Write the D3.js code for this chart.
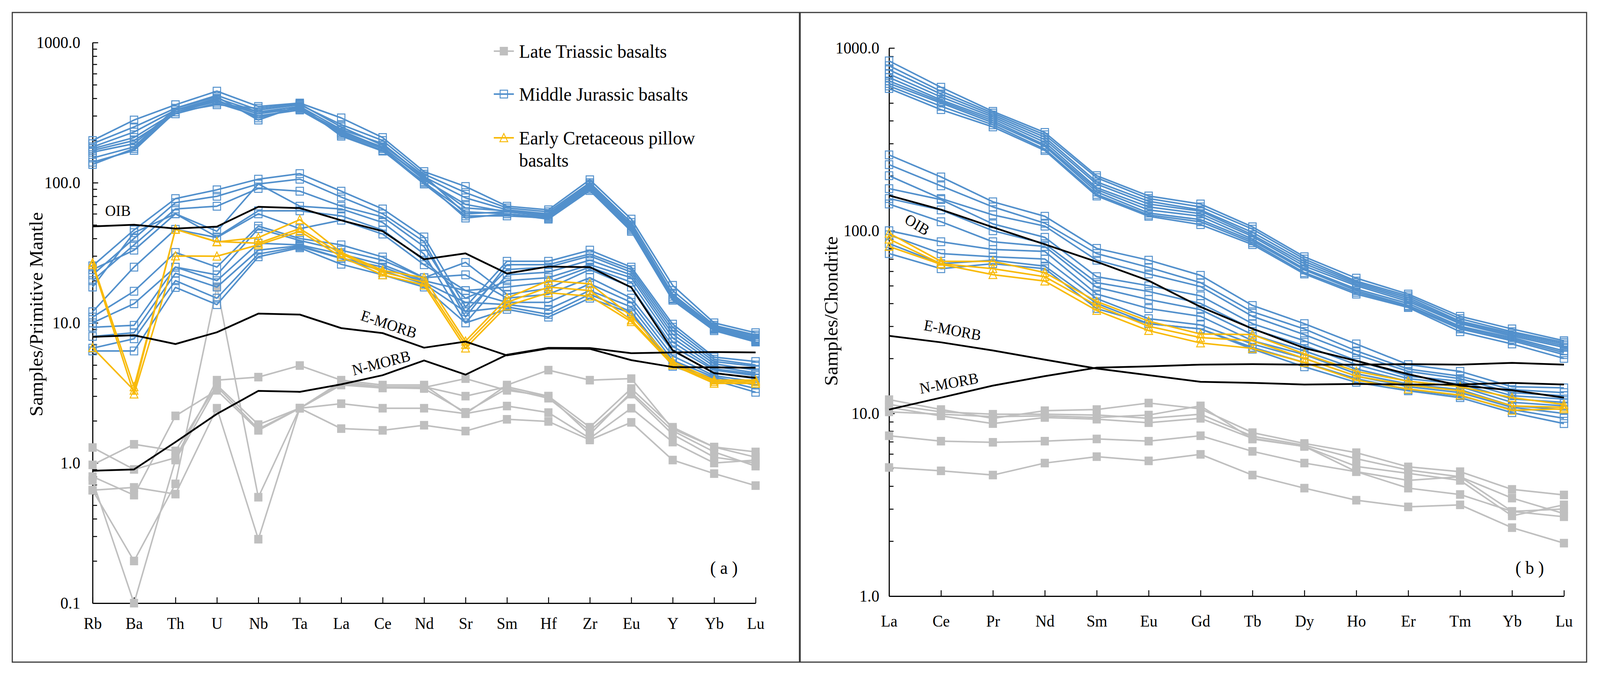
<!DOCTYPE html>
<html>
<head>
<meta charset="utf-8">
<script src="https://cdn.jsdelivr.net/npm/d3@7"></script>
<style>
  html, body { margin: 0; padding: 0; background: #fff; overflow: hidden; }
  #chart { display: block; width: 100vw; height: 100vh; }
  text { font-family: "Liberation Serif", "Times New Roman", serif; fill: #000; }
</style>
</head>
<body>
<svg id="chart" viewBox="0 0 4303 1729" preserveAspectRatio="none"></svg>
<script>
// element order on the two x axes
const spiderElements = ["Rb", "Ba", "Th", "U", "Nb", "Ta", "La", "Ce", "Nd", "Sr", "Sm", "Hf", "Zr", "Eu", "Y", "Yb", "Lu"];
const reeElements = ["La", "Ce", "Pr", "Nd", "Sm", "Eu", "Gd", "Tb", "Dy", "Ho", "Er", "Tm", "Yb", "Lu"];

const spiderTicks = [1000, 100, 10, 1, 0.1];
const reeTicks = [1000, 100, 10, 1];

const legendLabels = ["Late Triassic basalts", "Middle Jurassic basalts", ["Early Cretaceous pillow", "basalts"]];

// (a) primitive mantle normalised
const spiderTriassic = [
  [1.29, 0.90, 1.09, 3.9, 4.1, 4.96, 3.9, 3.6, 3.6, 2.25, 3.6, 4.6, 3.9, 4.0, 1.75, 1.3, 1.2],
  [0.97, 1.36, 1.22, 3.6, 1.88, 2.46, 3.8, 3.5, 3.5, 3.0, 3.5, 3.0, 1.8, 3.4, 1.8, 1.3, 1.1],
  [0.80, 0.59, 2.17, 3.3, 1.71, 2.46, 3.6, 3.43, 3.46, 4.0, 3.3, 3.0, 1.6, 3.2, 1.7, 1.2, 0.95],
  [0.64, 0.67, 0.60, 2.46, 0.286, 2.46, 2.65, 2.46, 2.46, 2.25, 2.55, 2.29, 1.5, 2.46, 1.41, 1.0, 1.05],
  [0.64, 0.20, 0.71, 18.1, 0.57, 2.46, 1.76, 1.71, 1.86, 1.69, 2.05, 1.98, 1.46, 1.95, 1.05, 0.84, 0.69],
  [0.75, 0.10, 1.05, 3.5, 1.75, 2.46, 3.7, 3.45, 3.4, 2.3, 3.4, 2.9, 1.7, 3.1, 1.6, 1.1, 1.0]
];

const spiderJurassic = [
  [200, 280, 360, 450, 350, 370, 290, 210, 120, 94, 68, 64, 105, 55, 18.5, 10.0, 8.5],
  [190, 250, 340, 420, 330, 360, 260, 200, 115, 85, 66, 62, 100, 52, 17, 9.6, 8.2],
  [180, 230, 330, 400, 320, 350, 240, 190, 110, 78, 64, 60, 98, 50, 16, 9.4, 8.0],
  [175, 210, 320, 380, 310, 340, 230, 180, 105, 70, 62, 58, 95, 48, 15.5, 9.2, 7.8],
  [170, 200, 310, 370, 300, 330, 225, 175, 100, 62, 60, 57, 92, 47, 15, 9.0, 7.6],
  [165, 190, 330, 390, 290, 345, 220, 170, 98, 58, 58, 56, 90, 46, 14.8, 9.0, 7.4],
  [150, 180, 340, 410, 280, 355, 215, 168, 102, 56, 60, 55, 88, 45, 14.5, 8.8, 7.3],
  [140, 170, 320, 360, 340, 365, 250, 185, 112, 60, 62, 58, 93, 50, 15, 9.1, 7.5],
  [135, 175, 330, 380, 320, 335, 235, 178, 108, 66, 63, 59, 96, 49, 16, 9.3, 7.7],
  [25.5, 46, 77, 89, 106, 116, 87, 65, 41, 13, 27.5, 27.5, 33, 25, 9.8, 5.7, 5.3],
  [22, 40, 72, 80, 98, 106, 79, 60, 38, 11, 26, 26, 31, 24, 9.3, 5.5, 5.0],
  [20, 36, 65, 68, 91, 87, 68, 57, 35, 12, 24, 25, 30, 23, 8.8, 5.3, 4.9],
  [18, 44, 60, 45, 98, 68, 65, 52, 31, 10, 22, 23, 28, 22, 8.3, 5.1, 4.6],
  [24, 33, 60, 41, 63, 63, 58, 46, 28, 15, 20, 21, 26, 21, 7.8, 4.9, 4.4],
  [12, 25, 46.5, 40.6, 60, 47, 54, 43, 26, 17, 18, 19.5, 25, 19.5, 7.3, 4.7, 4.3],
  [11, 16.8, 31.8, 25, 49, 40, 36, 29.5, 21, 27, 16, 17.6, 24, 18, 6.8, 4.6, 4.2],
  [10, 13.7, 25, 22, 47, 38.7, 33, 28, 21, 22, 15, 16, 21, 15, 6.3, 4.4, 4.0],
  [9.3, 9.6, 25, 20, 37, 36, 31, 26, 20, 17, 14, 14, 19, 14, 5.8, 4.2, 3.8],
  [8, 8.5, 22.6, 18, 33, 35.5, 29, 25, 19.5, 14, 13.5, 12.5, 17, 13, 5.4, 4.1, 3.6],
  [6.6, 7.7, 20, 15, 31, 35, 28.8, 23.5, 19, 12, 13, 11.5, 16, 12, 5.1, 4.0, 3.4],
  [6.3, 6.3, 17.9, 13.5, 29.6, 34.3, 26.2, 22, 18, 10, 12.5, 11, 15, 11.7, 4.9, 3.9, 3.2]
];

const spiderCretaceous = [
  [26.8, 3.5, 46.5, 37.8, 40.6, 54.5, 31.8, 23.7, 21, 7.4, 15, 20, 19, 11.2, 5.3, 3.9, 3.9],
  [26, 3.1, 30, 29.9, 36, 45, 29.6, 22, 18.6, 6.6, 13.2, 16.4, 15.5, 10.2, 5.0, 3.7, 3.7],
  [6.65, 3.3, 46.5, 38, 37, 47, 31, 23, 19.5, 7.0, 14, 18, 17, 10.5, 5.1, 3.8, 3.8]
];

const spiderOIB = [48.8, 50.1, 47.1, 48.6, 67.3, 65.9, 53.9, 45.1, 28.4, 31.3, 22.5, 25.2, 25.0, 17.9, 6.37, 4.38, 4.05];
const spiderEMORB = [7.94, 8.16, 7.06, 8.57, 11.64, 11.46, 9.17, 8.45, 6.65, 7.35, 5.86, 6.57, 6.52, 5.42, 4.84, 4.81, 4.78];
const spiderNMORB = [0.88, 0.90, 1.41, 2.24, 3.27, 3.22, 3.64, 4.23, 5.39, 4.27, 5.92, 6.63, 6.61, 6.07, 6.15, 6.19, 6.15];

// (b) chondrite normalised REE
const reeTriassic = [
  [11.9, 10.5, 9.4, 10.35, 10.5, 11.4, 10.6, 7.85, 6.85, 6.1, 5.1, 4.8, 3.84, 3.58],
  [11.2, 10.2, 9.9, 9.9, 9.8, 9.4, 9.9, 7.5, 6.7, 5.65, 4.9, 4.5, 3.44, 2.83],
  [10.8, 9.7, 8.8, 9.5, 9.3, 8.9, 9.4, 7.3, 6.6, 5.13, 4.7, 4.3, 2.75, 3.16],
  [10.2, 9.9, 9.6, 9.7, 9.5, 9.8, 11.0, 7.24, 6.6, 4.8, 4.3, 4.5, 2.91, 2.72],
  [7.55, 7.05, 6.95, 7.05, 7.25, 7.05, 7.55, 6.2, 5.35, 4.8, 3.9, 3.6, 2.91, 3.0],
  [5.06, 4.85, 4.6, 5.35, 5.8, 5.5, 5.97, 4.6, 3.9, 3.35, 3.08, 3.16, 2.37, 1.95]
];

const reeJurassic = [
  [850, 610, 450, 345, 200, 155, 140, 105, 72, 55, 45, 34, 29, 25],
  [800, 580, 440, 335, 195, 150, 135, 102, 70, 53, 44, 33, 28, 24.5],
  [760, 560, 430, 325, 185, 145, 130, 98, 68, 52, 43, 32, 27.5, 24],
  [720, 540, 420, 315, 180, 140, 128, 95, 66, 51, 42, 31.5, 27, 23.5],
  [690, 520, 410, 305, 172, 135, 124, 93, 64, 50, 41, 31, 26.5, 23],
  [660, 510, 400, 295, 168, 130, 120, 90, 62, 48, 40, 30, 26, 22],
  [640, 500, 390, 290, 163, 125, 115, 88, 61, 47, 39, 29.5, 25.5, 21.5],
  [620, 480, 380, 280, 158, 122, 112, 86, 59, 46, 38.5, 29, 25, 21],
  [600, 460, 370, 275, 155, 120, 108, 84, 58, 45, 38, 28, 24, 20],
  [260, 197, 144, 120, 80, 69, 57, 39, 31, 24, 18.5, 17, 14, 13.8],
  [230, 176, 135, 110, 75, 63, 52, 36, 29, 22, 17.5, 16, 13.5, 13],
  [200, 150, 122, 106, 69, 58, 49.5, 34, 27, 21, 17, 15.5, 13, 12.5],
  [170, 148, 109, 92, 56, 50, 44, 31, 25, 19.5, 16, 15, 12.5, 12],
  [150, 130, 100, 85, 52, 46.5, 40, 29, 23.5, 18.5, 15.5, 14.5, 12, 11.5],
  [140, 112, 87, 82, 49, 42, 37, 27, 22, 17.5, 15, 14, 11.5, 11],
  [100, 87, 79, 77, 45, 37.5, 34, 25, 21, 16.5, 14.5, 13.5, 11, 10.5],
  [95, 75, 72, 70, 42.5, 33, 30.5, 24, 20, 16, 14, 13, 10.8, 10],
  [85, 66, 69, 64, 40, 31, 29, 23, 19, 15.5, 13.5, 12.5, 10.5, 9.4],
  [75, 62, 66, 62, 37.5, 31, 29, 22.5, 18, 14.8, 13.3, 12.2, 10.1, 8.8]
];

const reeCretaceous = [
  [97, 68, 68, 59, 41, 32, 27.2, 27, 21.2, 17, 15, 14, 12.2, 11.2],
  [90, 66, 62, 56, 39, 30, 26, 25, 20, 16, 14.3, 13.3, 11, 10.8],
  [82, 65.5, 57.5, 53, 36.6, 28.4, 24.3, 22.7, 19, 15.2, 13.6, 12.6, 10.4, 10.6]
];

const reeOIB = [156, 130.5, 104.5, 84.2, 67.6, 53.3, 38.3, 29.1, 22.8, 19.4, 16.4, 14.2, 13.4, 12.2];
const reeEMORB = [26.6, 24.5, 22.1, 19.7, 17.6, 16.2, 14.9, 14.7, 14.4, 14.5, 14.4, 14.4, 14.7, 14.4];
const reeNMORB = [10.5, 12.2, 14.2, 16.0, 17.8, 18.1, 18.5, 18.6, 18.5, 18.5, 18.6, 18.5, 18.9, 18.5];

const grey = "#bfbfbf";
const blue = "#5290cc";
const gold = "#f8ba0a";

const svg = d3.select("#chart");

// panel frames
svg.append("rect").attr("x", 33).attr("y", 32).attr("width", 2117).attr("height", 1664)
  .attr("fill", "none").attr("stroke", "#3a3a3a").attr("stroke-width", 3);
svg.append("rect").attr("x", 2152).attr("y", 32).attr("width", 2115).attr("height", 1664)
  .attr("fill", "none").attr("stroke", "#3a3a3a").attr("stroke-width", 3);

function minorTicks(lo, hi) {
  let out = [];
  for (let d = lo; d < hi; d *= 10) {
    for (let k = 2; k <= 9; k++) out.push(d * k);
  }
  return out;
}

// marker shapes, in px
function markerPath(kind) {
  if (kind === "triangle") return "M0,-11L10.5,10L-10.5,10Z";
  if (kind === "filled") return "M-11,-11H11V11H-11Z";
  return "M-10,-10H10V10H-10Z";
}

function drawGroup(g, x, y, elements, rows, color, kind) {
  let line = d3.line()
    .x((d, i) => x(elements[i]))
    .y(d => y(d));
  rows.forEach(row => {
    g.append("path")
      .datum(row)
      .attr("fill", "none")
      .attr("stroke", color)
      .attr("stroke-width", 4)
      .attr("stroke-linejoin", "round")
      .attr("d", line);
    g.selectAll(null)
      .data(row)
      .enter()
      .append("path")
      .attr("transform", (d, i) => "translate(" + x(elements[i]) + "," + y(d) + ")")
      .attr("d", markerPath(kind))
      .attr("fill", kind === "filled" ? color : "none")
      .attr("stroke", color)
      .attr("stroke-width", kind === "filled" ? 0 : 2.5);
  });
}

function drawReference(g, x, y, elements, row) {
  let line = d3.line()
    .x((d, i) => x(elements[i]))
    .y(d => y(d));
  g.append("path")
    .datum(row)
    .attr("fill", "none")
    .attr("stroke", "#000")
    .attr("stroke-width", 4.5)
    .attr("stroke-linejoin", "round")
    .attr("d", line);
}

function rotatedLabel(g, text, cx, cy, angle) {
  g.append("text")
    .attr("transform", "translate(" + cx + "," + cy + ") rotate(" + angle + ")")
    .attr("text-anchor", "middle")
    .attr("dy", "0.35em")
    .style("font-size", "40px")
    .text(text);
}

function drawPanel(p) {
  let g = svg.append("g");
  let x = d3.scalePoint().domain(p.elements).range([p.x0, p.x1]);
  let y = d3.scaleLog().domain([p.ticks[p.ticks.length - 1], p.ticks[0]]).range([p.y0, p.y1]);

  // axes
  let yMinor = g.append("g")
    .attr("transform", "translate(" + p.x0 + ",0)")
    .call(d3.axisLeft(y).tickValues(minorTicks(p.ticks[p.ticks.length - 1], p.ticks[0])).tickSize(-12).tickFormat(""));
  yMinor.select(".domain").remove();
  yMinor.selectAll("line").attr("stroke", "#000").attr("stroke-width", 2.5);

  let yAxis = g.append("g")
    .attr("transform", "translate(" + p.x0 + ",0)")
    .call(d3.axisLeft(y).tickValues(p.ticks).tickSizeInner(-15).tickSizeOuter(0).tickPadding(p.labelGap).tickFormat(d3.format(".1f")));
  yAxis.select(".domain").attr("stroke", "#000").attr("stroke-width", 3);
  yAxis.selectAll("line").attr("stroke", "#000").attr("stroke-width", 2.5);
  yAxis.selectAll("text").style("font-size", "43px").attr("font-family", null);

  let xAxis = g.append("g")
    .attr("transform", "translate(0," + p.y0 + ")")
    .call(d3.axisBottom(x).tickSizeInner(-15).tickSizeOuter(0).tickPadding(p.xPad));
  xAxis.select(".domain").attr("stroke", "#000").attr("stroke-width", 3);
  xAxis.selectAll("line").attr("stroke", "#000").attr("stroke-width", 2.5);
  xAxis.selectAll("text").style("font-size", "42px").attr("font-family", null);

  // axis title
  g.append("text")
    .attr("transform", "translate(" + p.titleX + "," + p.titleY + ") rotate(-90)")
    .attr("text-anchor", "middle")
    .style("font-size", "50px")
    .text(p.title);

  // data
  drawGroup(g, x, y, p.elements, p.triassic, grey, "filled");
  drawGroup(g, x, y, p.elements, p.jurassic, blue, "square");
  drawGroup(g, x, y, p.elements, p.cretaceous, gold, "triangle");
  drawReference(g, x, y, p.elements, p.oib);
  drawReference(g, x, y, p.elements, p.emorb);
  drawReference(g, x, y, p.elements, p.nmorb);

  p.labels.forEach(l => rotatedLabel(g, l[0], l[1], l[2], l[3]));

  g.append("text")
    .attr("x", p.tagX).attr("y", p.tagY)
    .attr("text-anchor", "middle")
    .attr("dy", "0.35em")
    .style("font-size", "46px")
    .text(p.tag);
}

drawPanel({
  elements: spiderElements, ticks: spiderTicks,
  x0: 249, x1: 2032, y0: 1545, y1: 109, labelGap: 33, xPad: 36,
  title: "Samples/Primitive Mantle", titleX: 115, titleY: 805,
  triassic: spiderTriassic, jurassic: spiderJurassic, cretaceous: spiderCretaceous,
  oib: spiderOIB, emorb: spiderEMORB, nmorb: spiderNMORB,
  labels: [["OIB", 317, 539, 0], ["E-MORB", 1046, 830, 18], ["N-MORB", 1025, 929, -14]],
  tag: "( a )", tagX: 1947, tagY: 1454
});

drawPanel({
  elements: reeElements, ticks: reeTicks,
  x0: 2391, x1: 4206, y0: 1527, y1: 123, labelGap: 26, xPad: 48,
  title: "Samples/Chondrite", titleX: 2252, titleY: 797,
  triassic: reeTriassic, jurassic: reeJurassic, cretaceous: reeCretaceous,
  oib: reeOIB, emorb: reeEMORB, nmorb: reeNMORB,
  labels: [["OIB", 2467, 575, 31], ["E-MORB", 2562, 845, 10], ["N-MORB", 2552, 981, -10]],
  tag: "( b )", tagX: 4114, tagY: 1454
});

// legend (panel a)
let legend = svg.append("g");
let legendRows = [
  { color: grey, kind: "filled", y: 131 },
  { color: blue, kind: "square", y: 241 },
  { color: gold, kind: "triangle", y: 353 }
];
legendRows.forEach((r, i) => {
  legend.append("line")
    .attr("x1", 1328).attr("x2", 1382).attr("y1", r.y).attr("y2", r.y)
    .attr("stroke", r.color).attr("stroke-width", 4);
  legend.append("path")
    .attr("transform", "translate(1355," + r.y + ")")
    .attr("d", markerPath(r.kind))
    .attr("fill", r.kind === "filled" ? r.color : "none")
    .attr("stroke", r.color)
    .attr("stroke-width", r.kind === "filled" ? 0 : 2.5);
  let label = legendLabels[i];
  let lines = Array.isArray(label) ? label : [label];
  lines.forEach((txt, j) => {
    legend.append("text")
      .attr("x", 1396).attr("y", r.y + j * 57)
      .attr("dy", "0.35em")
      .style("font-size", "49px")
      .text(txt);
  });
});
</script>
</body>
</html>
